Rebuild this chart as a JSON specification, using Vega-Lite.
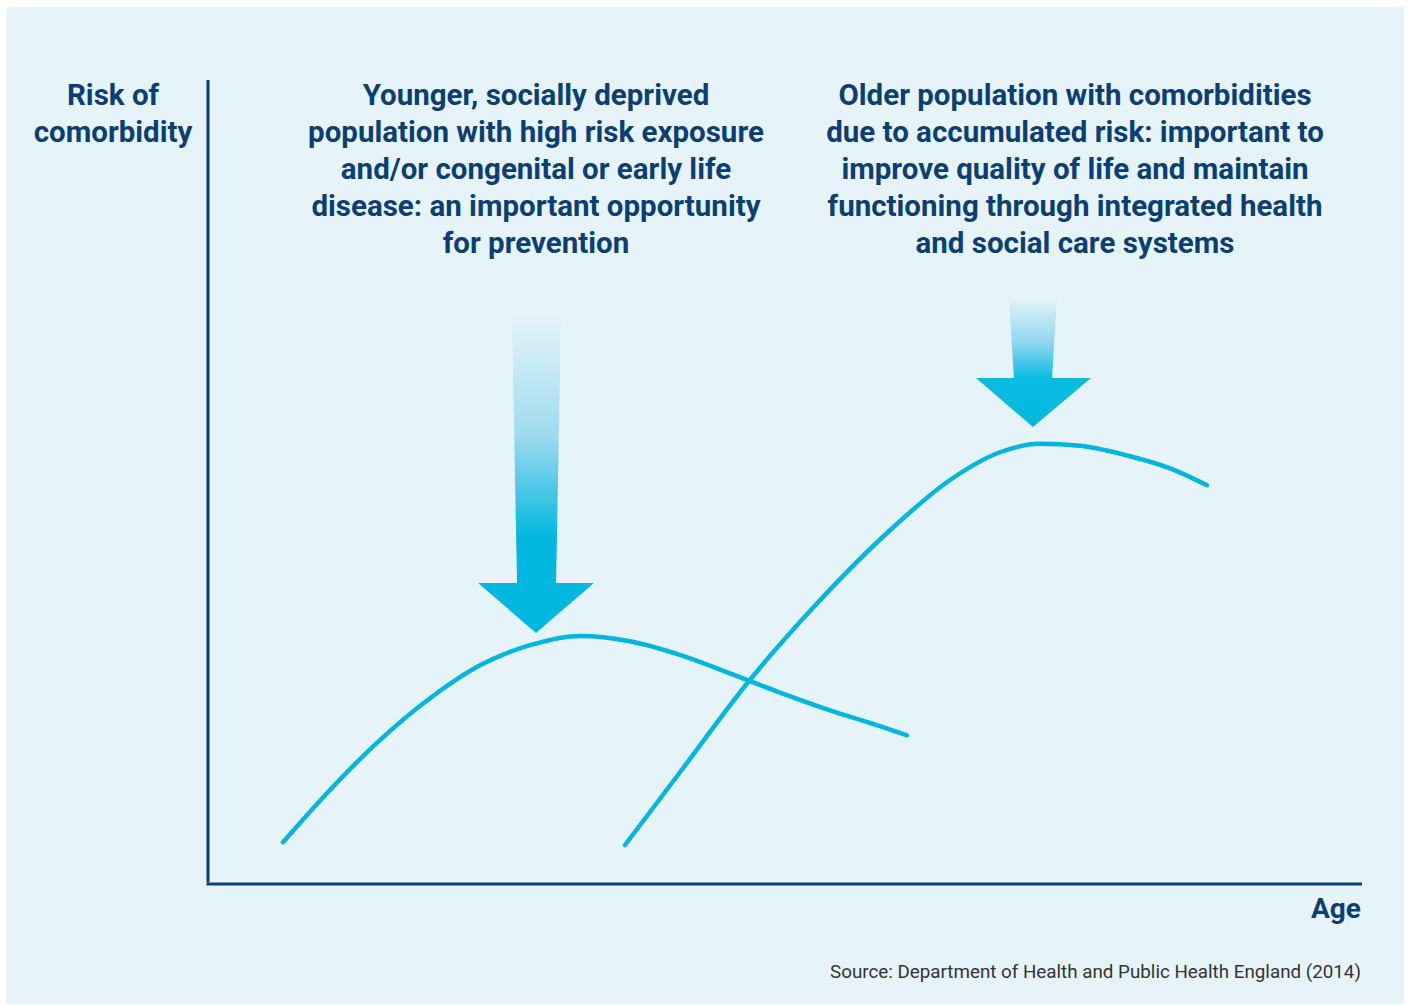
{
  "$schema": "https://vega.github.io/schema/vega-lite/v6.json",
  "width": 1154,
  "height": 804,
  "autosize": {"type": "none"},
  "padding": {"left": 208, "top": 80, "right": 48, "bottom": 122},
  "background": "#ffffff",
  "config": {"view": {"stroke": null}},
  "datasets": {
    "panel": [{"x0": -17.5, "x1": 103.64, "y0": -14.93, "y1": 109.08}],
    "axes": [
      {"x0": 0, "x1": 0, "y0": 0.18, "y1": 100},
      {"x0": -0.13, "x1": 100, "y0": 0, "y1": 0}
    ],
    "curves": [
      {"series": "younger", "age": 6.5, "risk": 5.2},
      {"series": "younger", "age": 10.57, "risk": 11.7},
      {"series": "younger", "age": 14.9, "risk": 17.9},
      {"series": "younger", "age": 19.24, "risk": 23.1},
      {"series": "younger", "age": 23.57, "risk": 27.2},
      {"series": "younger", "age": 27.9, "risk": 29.7},
      {"series": "younger", "age": 32.24, "risk": 30.85},
      {"series": "younger", "age": 36.57, "risk": 30.2},
      {"series": "younger", "age": 40.9, "risk": 28.5},
      {"series": "younger", "age": 45.23, "risk": 26.2},
      {"series": "younger", "age": 49.57, "risk": 23.8},
      {"series": "younger", "age": 53.9, "risk": 21.6},
      {"series": "younger", "age": 58.23, "risk": 19.65},
      {"series": "younger", "age": 60.57, "risk": 18.5},
      {"series": "older", "age": 36.14, "risk": 4.85},
      {"series": "older", "age": 40.9, "risk": 13.9},
      {"series": "older", "age": 46.97, "risk": 25.4},
      {"series": "older", "age": 53.03, "risk": 35.3},
      {"series": "older", "age": 59.1, "risk": 44.0},
      {"series": "older", "age": 64.3, "risk": 50.25},
      {"series": "older", "age": 68.63, "risk": 53.7},
      {"series": "older", "age": 72.1, "risk": 54.75},
      {"series": "older", "age": 75.56, "risk": 54.5},
      {"series": "older", "age": 79.9, "risk": 53.2},
      {"series": "older", "age": 83.36, "risk": 51.7},
      {"series": "older", "age": 86.57, "risk": 49.6}
    ],
    "arrow1": [
      {"y": 70.4, "xl": 26.34, "xr": 30.59},
      {"y": 37.44, "xl": 26.78, "xr": 30.16},
      {"y": 37.43, "xl": 23.4, "xr": 33.45},
      {"y": 31.22, "xl": 28.42, "xr": 28.42}
    ],
    "arrow2": [
      {"y": 72.89, "xl": 69.41, "xr": 73.57},
      {"y": 62.94, "xl": 69.84, "xr": 73.14},
      {"y": 62.93, "xl": 66.55, "xr": 76.52},
      {"y": 56.84, "xl": 71.49, "xr": 71.49}
    ],
    "labels": [
      {"x": 28.42, "y": 96.9, "text": "Younger, socially deprived\npopulation with high risk exposure\nand/or congenital or early life\ndisease: an important opportunity\nfor prevention"},
      {"x": 75.13, "y": 96.9, "text": "Older population with comorbidities\ndue to accumulated risk: important to\nimprove quality of life and maintain\nfunctioning through integrated health\nand social care systems"},
      {"x": -8.23, "y": 96.9, "text": "Risk of\ncomorbidity"}
    ],
    "age": [{"x": 99.91, "y": -4.2, "text": "Age"}],
    "source": [{"x": 99.91, "y": -11.69, "text": "Source: Department of Health and Public Health England (2014)"}]
  },
  "layer": [
    {
      "data": {"name": "panel"},
      "mark": {"type": "rect", "color": "#e6f4fa"},
      "encoding": {
        "x": {"field": "x0", "type": "quantitative", "scale": {"domain": [0, 100], "nice": false, "zero": false}, "axis": null},
        "x2": {"field": "x1"},
        "y": {"field": "y0", "type": "quantitative", "scale": {"domain": [0, 100], "nice": false, "zero": false}, "axis": null},
        "y2": {"field": "y1"}
      }
    },
    {
      "data": {"name": "arrow1"},
      "mark": {"type": "area", "orient": "horizontal", "interpolate": "linear",
        "color": {"gradient": "linear", "x1": 0, "y1": 0, "x2": 0, "y2": 1, "stops": [
          {"offset": 0, "color": "#e3f3f9"},
          {"offset": 0.37, "color": "#9fdbef"},
          {"offset": 0.7, "color": "#00b8df"},
          {"offset": 1, "color": "#00b8df"}]}},
      "encoding": {
        "y": {"field": "y", "type": "quantitative"},
        "x": {"field": "xl", "type": "quantitative"},
        "x2": {"field": "xr"}
      }
    },
    {
      "data": {"name": "arrow2"},
      "mark": {"type": "area", "orient": "horizontal", "interpolate": "linear",
        "color": {"gradient": "linear", "x1": 0, "y1": 0, "x2": 0, "y2": 1, "stops": [
          {"offset": 0, "color": "#e3f3f9"},
          {"offset": 0.35, "color": "#8fd6ee"},
          {"offset": 0.62, "color": "#0cbbe1"},
          {"offset": 1, "color": "#00b8df"}]}},
      "encoding": {
        "y": {"field": "y", "type": "quantitative"},
        "x": {"field": "xl", "type": "quantitative"},
        "x2": {"field": "xr"}
      }
    },
    {
      "data": {"name": "axes"},
      "mark": {"type": "rule", "color": "#0b3f74", "strokeWidth": 3},
      "encoding": {
        "x": {"field": "x0", "type": "quantitative"},
        "x2": {"field": "x1"},
        "y": {"field": "y0", "type": "quantitative"},
        "y2": {"field": "y1"}
      }
    },
    {
      "data": {"name": "curves"},
      "mark": {"type": "line", "color": "#00b5de", "strokeWidth": 4.5, "strokeCap": "round", "interpolate": "monotone"},
      "encoding": {
        "x": {"field": "age", "type": "quantitative"},
        "y": {"field": "risk", "type": "quantitative"},
        "detail": {"field": "series", "type": "nominal"}
      }
    },
    {
      "data": {"name": "labels"},
      "mark": {"type": "text", "font": "Roboto", "fontWeight": "bold", "fontSize": 29.5, "color": "#0b3f74", "align": "center", "baseline": "alphabetic", "lineBreak": "\n", "lineHeight": 37},
      "encoding": {
        "x": {"field": "x", "type": "quantitative"},
        "y": {"field": "y", "type": "quantitative"},
        "text": {"field": "text"}
      }
    },
    {
      "data": {"name": "age"},
      "mark": {"type": "text", "font": "Roboto", "fontWeight": "bold", "fontSize": 28, "color": "#0b3f74", "align": "right", "baseline": "alphabetic"},
      "encoding": {
        "x": {"field": "x", "type": "quantitative"},
        "y": {"field": "y", "type": "quantitative"},
        "text": {"field": "text"}
      }
    },
    {
      "data": {"name": "source"},
      "mark": {"type": "text", "font": "Roboto", "fontSize": 18.8, "color": "#333333", "align": "right", "baseline": "alphabetic"},
      "encoding": {
        "x": {"field": "x", "type": "quantitative"},
        "y": {"field": "y", "type": "quantitative"},
        "text": {"field": "text"}
      }
    }
  ]
}
